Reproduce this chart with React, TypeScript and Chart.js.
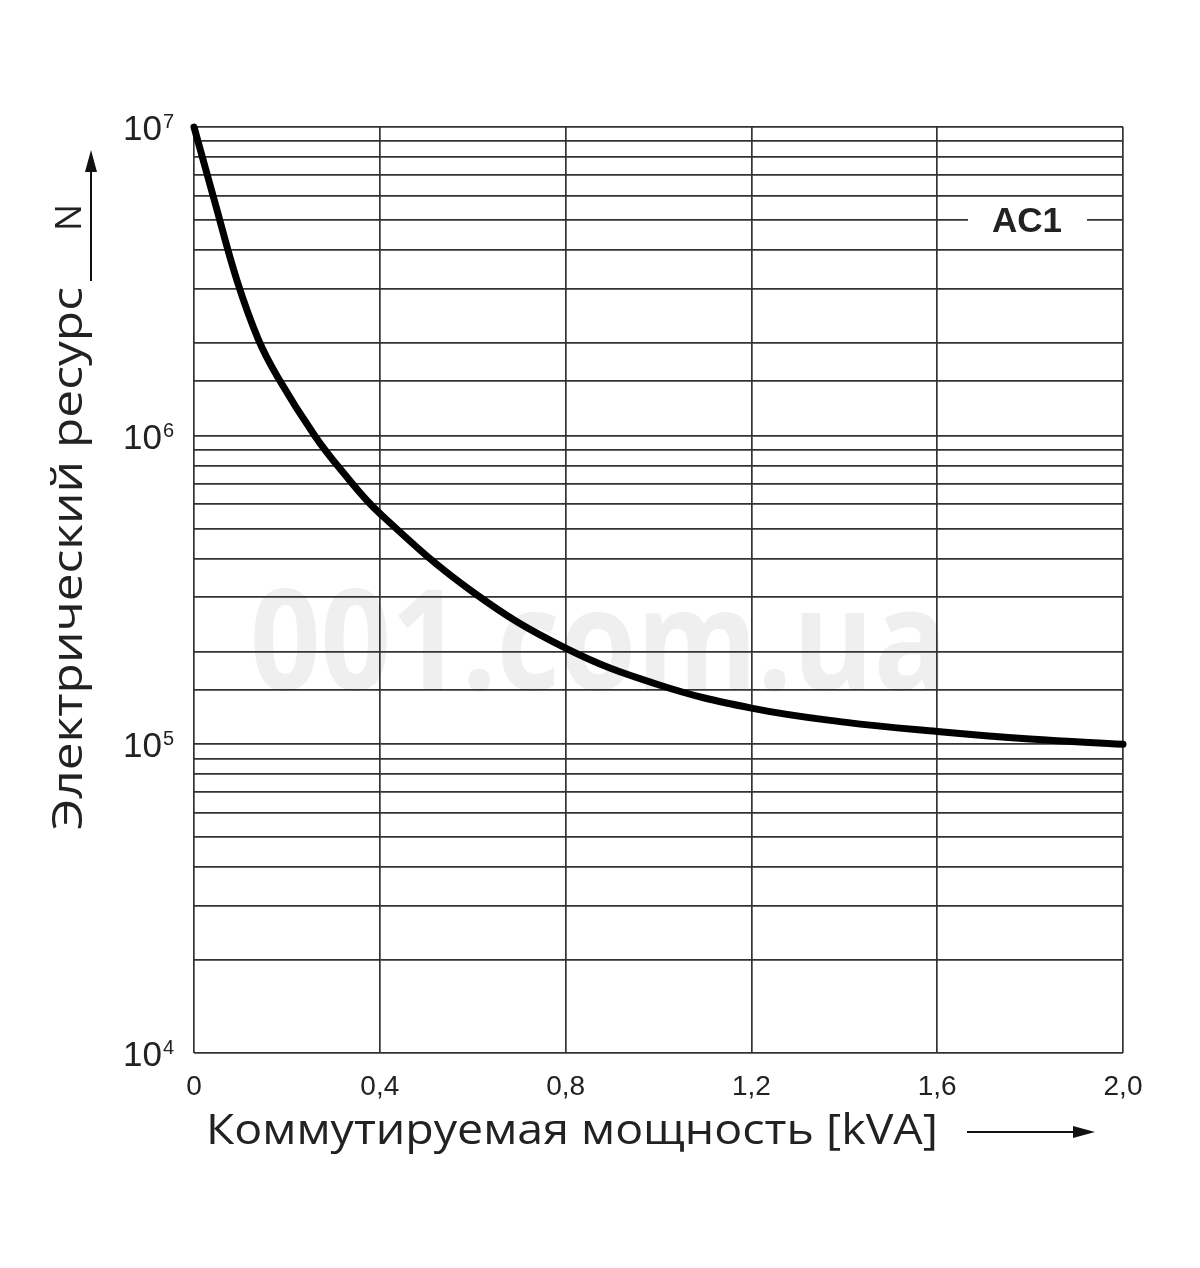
import { useEffect, useRef } from "react";
import { Chart, registerables } from "chart.js";

Chart.register(...registerables);

// ---- data ----
const kva = [0, 0.045, 0.092, 0.138, 0.18, 0.26, 0.318, 0.4, 0.6, 0.8, 1.0, 1.2, 1.4, 1.6, 1.8, 2.0];
const cycles = [1e7, 5.7e6, 3.2e6, 2.06e6, 1.55e6, 1.0e6, 7.7e5, 5.6e5, 3.12e5, 2.05e5, 1.56e5, 1.31e5, 1.18e5, 1.1e5, 1.04e5, 1.0e5];
const xTickValues = [0, 0.4, 0.8, 1.2, 1.6, 2.0];
const yDecadeExponents = [4, 5, 6, 7];
const xTitle = "Коммутируемая мощность [kVA]";
const yTitle = "Электрический ресурс";
const yUnit = "N";
const curveLabel = "AC1";
const curveLabelValue = 5e6;
const watermark = "001.com.ua";

const TEXT = "#222";
const GRID = "#333";

function fitText(
  ctx: CanvasRenderingContext2D,
  text: string,
  font: string,
  x: number,
  y: number,
  width: number,
  rotate = 0
) {
  ctx.save();
  ctx.font = font;
  const w = ctx.measureText(text).width;
  ctx.translate(x, y);
  if (rotate) ctx.rotate(rotate);
  ctx.scale(width / w, 1);
  ctx.textAlign = "left";
  ctx.textBaseline = "alphabetic";
  ctx.fillText(text, 0, 0);
  ctx.restore();
}

function arrow(ctx: CanvasRenderingContext2D, x1: number, y1: number, x2: number, y2: number) {
  const ang = Math.atan2(y2 - y1, x2 - x1);
  const len = 22;
  const hw = 6;
  const bx = x2 - Math.cos(ang) * len;
  const by = y2 - Math.sin(ang) * len;
  ctx.save();
  ctx.strokeStyle = "#111";
  ctx.fillStyle = "#111";
  ctx.lineWidth = 2;
  ctx.beginPath();
  ctx.moveTo(x1, y1);
  ctx.lineTo(bx, by);
  ctx.stroke();
  ctx.beginPath();
  ctx.moveTo(x2, y2);
  ctx.lineTo(bx + Math.sin(ang) * hw, by - Math.cos(ang) * hw);
  ctx.lineTo(bx - Math.sin(ang) * hw, by + Math.cos(ang) * hw);
  ctx.closePath();
  ctx.fill();
  ctx.restore();
}

const decorPlugin = {
  id: "decor",
  beforeDraw(chart: any) {
    const ctx: CanvasRenderingContext2D = chart.ctx;
    ctx.save();
    ctx.fillStyle = "#efefef";
    fitText(ctx, watermark, "bold 140px 'Open Sans', sans-serif", 250, 690, 698);
    ctx.restore();
  },
  afterDraw(chart: any) {
    const ctx: CanvasRenderingContext2D = chart.ctx;
    const xs = chart.scales.x;
    const ys = chart.scales.y;
    const area = chart.chartArea;
    ctx.save();
    ctx.fillStyle = TEXT;

    // x tick labels
    ctx.font = "28px 'Liberation Sans', Arial, sans-serif";
    ctx.textAlign = "center";
    ctx.textBaseline = "alphabetic";
    for (const v of xTickValues) {
      const px = xs.getPixelForValue(v);
      const label = v === 0 ? "0" : v.toFixed(1).replace(".", ",");
      ctx.fillText(label, px, area.bottom + 42);
    }

    // y decade labels 10^n
    for (const e of yDecadeExponents) {
      const py = ys.getPixelForValue(Math.pow(10, e));
      ctx.font = "35px 'Liberation Sans', Arial, sans-serif";
      ctx.textAlign = "right";
      ctx.fillText("10", area.left - 32, py + 13);
      ctx.font = "20px 'Liberation Sans', Arial, sans-serif";
      ctx.textAlign = "left";
      ctx.fillText(String(e), area.left - 31, py + 1);
    }

    // axis titles
    fitText(ctx, xTitle, "42px 'Open Sans', sans-serif", 206, 1144, 732);
    fitText(ctx, yTitle, "42px 'Open Sans', sans-serif", 82, 830, 543, -Math.PI / 2);
    ctx.save();
    ctx.font = "36px 'Open Sans', sans-serif";
    ctx.translate(81, 231);
    ctx.rotate(-Math.PI / 2);
    ctx.textAlign = "left";
    ctx.fillText(yUnit, 0, 0);
    ctx.restore();

    // arrows
    arrow(ctx, 967, 1132, 1095, 1132);
    arrow(ctx, 91, 281, 91, 150);

    // curve label
    const ly = ys.getPixelForValue(curveLabelValue);
    ctx.fillStyle = "#fff";
    ctx.fillRect(968, ly - 5, 119, 10);
    ctx.fillStyle = TEXT;
    ctx.font = "bold 35px 'Liberation Sans', Arial, sans-serif";
    ctx.textAlign = "center";
    ctx.textBaseline = "middle";
    ctx.fillText(curveLabel, 1027, ly + 2);
    ctx.restore();
  },
};

export default function App() {
  const ref = useRef<HTMLCanvasElement | null>(null);

  useEffect(() => {
    if (!ref.current) return;
    const chart = new Chart(ref.current, {
      type: "line",
      data: {
        datasets: [
          {
            data: kva.map((x, i) => ({ x, y: cycles[i] })),
            borderColor: "#000",
            borderWidth: 7,
            pointRadius: 0,
            fill: false,
            tension: 0.4,
            borderCapStyle: "round",
            borderJoinStyle: "round",
            clip: 10,
          } as any,
        ],
      },
      options: {
        responsive: false,
        animation: false,
        events: [],
        layout: { padding: { left: 194, right: 77, top: 127, bottom: 215 } },
        plugins: { legend: { display: false }, tooltip: { enabled: false } },
        scales: {
          x: {
            type: "linear",
            min: 0,
            max: 2,
            ticks: { display: false, stepSize: 0.4 },
            grid: { color: GRID, lineWidth: 1.7, drawTicks: false },
            border: { display: false },
          },
          y: {
            type: "logarithmic",
            min: 1e4,
            max: 1e7,
            ticks: { display: false },
            grid: { color: GRID, lineWidth: 1.7, drawTicks: false },
            border: { display: false },
          },
        },
      },
      plugins: [decorPlugin],
    });
    return () => chart.destroy();
  }, []);

  return (
    <div style={{ position: "absolute", left: 0, top: 0, width: 1200, height: 1268, background: "#fff" }}>
      <canvas ref={ref} width={1200} height={1268} style={{ display: "block" }} />
    </div>
  );
}
